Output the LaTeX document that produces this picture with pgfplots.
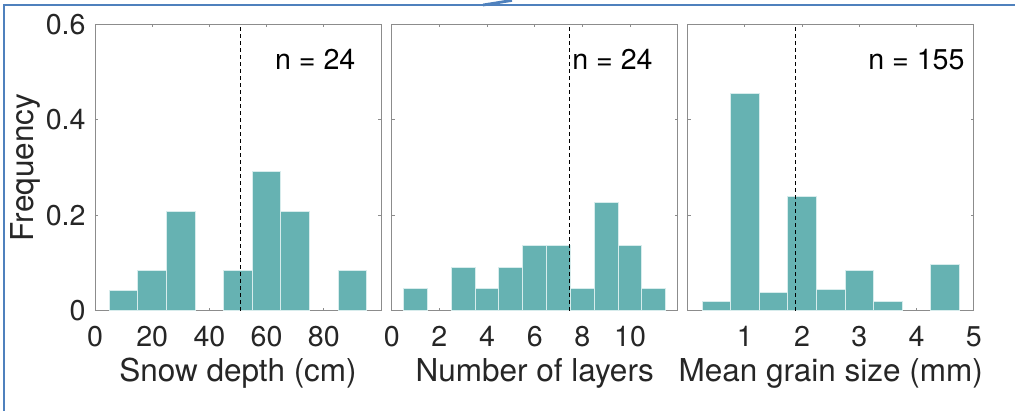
\documentclass[border=0pt]{standalone}
\usepackage{pgfplots}
\pgfplotsset{compat=1.18}
\usepackage{fontspec}
\setmainfont{TeX Gyre Heros}
\definecolor{barfill}{RGB}{102,178,178}
\definecolor{baredge}{RGB}{215,236,236}
\definecolor{axgray}{RGB}{140,140,140}
\definecolor{txt}{RGB}{38,38,38}
\definecolor{frameblue}{RGB}{79,129,189}
\pgfplotsset{
 hist/.style={
  scale only axis, width=143pt, height=143.2pt,
  ymin=0, ymax=0.6, ytick={0,0.2,0.4,0.6},
  axis line style={axgray, line width=0.45pt},
  tick style={axgray, line width=0.45pt},
  major tick length=1.5pt,
  tick label style={font=\fontsize{14.3}{17}\selectfont, text=txt},
  /pgf/number format/assume math mode=true,
  xticklabel style={anchor=base, yshift=-18pt, inner sep=0pt},
  yticklabel style={anchor=east, xshift=-4.5pt, inner sep=0pt},
  label style={font=\fontsize{15.75}{19}\selectfont, text=txt},
  xlabel style={at={(axis description cs:0.5,0)}, anchor=base, yshift=-35.5pt, inner sep=0pt},
  ylabel style={at={(axis description cs:-0.2448,0.5)}, anchor=center, rotate=0},
 },
 bars/.style={ybar, bar shift=0pt, fill=barfill, draw=baredge, line width=0.5pt},
 meanline/.style={black, line width=0.65pt, dash pattern=on 2pt off 1.5pt},
}
\begin{document}
\begin{tikzpicture}
\useasboundingbox (0,0) rectangle (507.5pt,205.5pt);
\draw[frameblue, line width=1.4pt] (2pt,0) -- (2pt,203pt) -- (507.5pt,203pt);
\draw[frameblue, line width=1.4pt] (241.5pt,203pt) -- (256pt,205.3pt);

% Panel 1
\begin{axis}[hist, at={(47.5pt,50.15pt)}, anchor=south west,
  xmin=0, xmax=100, xtick={0,20,40,60,80},
  xlabel={Snow depth (cm)}, ylabel={Frequency}]
\addplot[bars, bar width=10] coordinates {
 (10,0.0417) (20,0.0833) (30,0.2083) (50,0.0833) (60,0.2917) (70,0.2083) (90,0.0833)};
\addplot[meanline] coordinates {(50.8,0) (50.8,0.6)};
\node[anchor=west, inner sep=0pt, font=\fontsize{14.3}{17}\selectfont, text=black] at (axis cs:62.8,0.527) {n = 24};
\end{axis}

% Panel 2
\begin{axis}[hist, at={(195.85pt,50.15pt)}, anchor=south west,
  xmin=0, xmax=12, xtick={0,2,4,6,8,10}, yticklabels={},
  xlabel={Number of layers}]
\addplot[bars, bar width=1] coordinates {
 (1,0.0455) (3,0.0909) (4,0.0455) (5,0.0909) (6,0.1364) (7,0.1364) (8,0.0455) (9,0.2273) (10,0.1364) (11,0.0455)};
\addplot[meanline] coordinates {(7.46,0) (7.46,0.6)};
\node[anchor=west, inner sep=0pt, font=\fontsize{14.3}{17}\selectfont, text=black] at (axis cs:7.56,0.527) {n = 24};
\end{axis}

% Panel 3
\begin{axis}[hist, at={(343.85pt,50.15pt)}, anchor=south west,
  xmin=0, xmax=5, xtick={1,2,3,4,5}, yticklabels={},
  xlabel={Mean grain size (mm)}]
\addplot[bars, bar width=0.5] coordinates {
 (0.5,0.019) (1,0.455) (1.5,0.039) (2,0.239) (2.5,0.045) (3,0.084) (3.5,0.019) (4.5,0.097)};
\addplot[meanline] coordinates {(1.89,0) (1.89,0.6)};
\node[anchor=west, inner sep=0pt, font=\fontsize{14.3}{17}\selectfont, text=black] at (axis cs:3.15,0.527) {n = 155};
\end{axis}
\end{tikzpicture}
\end{document}
